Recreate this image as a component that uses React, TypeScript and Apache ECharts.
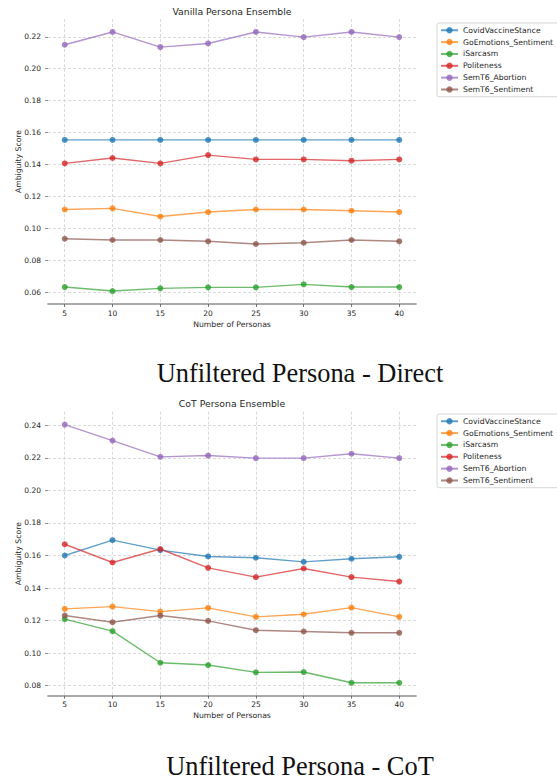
import React, { useEffect, useRef } from "react";
import * as echarts from "echarts";

// Shared x positions and series names
const personaCounts = [5, 10, 15, 20, 25, 30, 35, 40];
const seriesNames = [
  "CovidVaccineStance",
  "GoEmotions_Sentiment",
  "iSarcasm",
  "Politeness",
  "SemT6_Abortion",
  "SemT6_Sentiment",
];
const palette = ["#1f77b4", "#ff7f0e", "#2ca02c", "#d62728", "#9467bd", "#8c564b"];

// Vanilla persona ensemble
const vanillaCovid = [0.1555, 0.1555, 0.1555, 0.1555, 0.1555, 0.1555, 0.1555, 0.1555];
const vanillaGoEmotions = [0.112, 0.1127, 0.1076, 0.1104, 0.112, 0.112, 0.1112, 0.1104];
const vanillaSarcasm = [0.0635, 0.061, 0.0627, 0.0633, 0.0633, 0.0652, 0.0635, 0.0635];
const vanillaPoliteness = [0.1408, 0.1442, 0.1408, 0.146, 0.1433, 0.1433, 0.1425, 0.1433];
const vanillaAbortion = [0.215, 0.223, 0.2135, 0.2158, 0.223, 0.2198, 0.223, 0.2198];
const vanillaSentiment = [0.0937, 0.0929, 0.0929, 0.0921, 0.0904, 0.0912, 0.0929, 0.0921];
const vanillaTicks = [0.06, 0.08, 0.1, 0.12, 0.14, 0.16, 0.18, 0.2, 0.22];

// CoT persona ensemble
const cotCovid = [0.16, 0.1694, 0.1633, 0.1594, 0.1586, 0.1561, 0.158, 0.1592];
const cotGoEmotions = [0.1272, 0.1286, 0.1255, 0.1278, 0.1223, 0.1239, 0.128, 0.1223];
const cotSarcasm = [0.1209, 0.1135, 0.0941, 0.0927, 0.0882, 0.0884, 0.0818, 0.0818];
const cotPoliteness = [0.1669, 0.1557, 0.164, 0.1524, 0.1467, 0.152, 0.1467, 0.144];
const cotAbortion = [0.2404, 0.2306, 0.2206, 0.2214, 0.2198, 0.2198, 0.2225, 0.2198];
const cotSentiment = [0.1231, 0.119, 0.1231, 0.1198, 0.1141, 0.1133, 0.1125, 0.1125];
const cotTicks = [0.08, 0.1, 0.12, 0.14, 0.16, 0.18, 0.2, 0.22, 0.24];

const UI_FONT = "DejaVu Sans";
const TEXT_COLOR = "#262626";

function padded(values: number[]) {
  const lo = Math.min(...values);
  const hi = Math.max(...values);
  const pad = (hi - lo) * 0.05;
  return { min: lo - pad, max: hi + pad };
}

interface PanelProps {
  top: number;
  title: string;
  caption: string;
  lines: number[][];
  yTicks: number[];
  gridTop: number;
  gridHeight: number;
  titleY: number;
  captionY: number;
  legendTop: number;
}

function Panel(props: PanelProps) {
  const ref = useRef<HTMLDivElement>(null);

  useEffect(() => {
    if (!ref.current) return;
    const chart = echarts.init(ref.current, undefined, { renderer: "svg" });
    const yr = padded(props.lines.flat());
    const xr = padded(personaCounts);

    const gridLine = {
      show: true,
      lineStyle: { color: "#d0d0d0", width: 0.8, type: [3, 2] as number[] },
    };

    chart.setOption({
      animation: false,
      backgroundColor: "#ffffff",
      grid: {
        left: 48,
        top: props.gridTop,
        width: 368,
        height: props.gridHeight,
        containLabel: false,
      },
      legend: {
        orient: "vertical",
        left: 437,
        top: props.legendTop,
        padding: [3, 12, 3, 3],
        itemWidth: 17,
        itemHeight: 8,
        itemGap: 3.35,
        borderColor: "#cccccc",
        borderWidth: 0.8,
        borderRadius: 2,
        backgroundColor: "rgba(255,255,255,0.8)",
        textStyle: { fontFamily: UI_FONT, fontSize: 7.7, color: TEXT_COLOR, lineHeight: 8.5 },
        data: seriesNames,
      },
      xAxis: {
        type: "value",
        min: xr.min,
        max: xr.max,
        name: "Number of Personas",
        nameLocation: "middle",
        nameGap: 16,
        nameMoveOverlap: false,
        nameTextStyle: { fontFamily: UI_FONT, fontSize: 7.7, color: TEXT_COLOR },
        axisLine: { show: true, lineStyle: { color: "#aaaaaa", width: 1.8 } },
        axisTick: {
          show: true,
          length: 3,
          customValues: personaCounts,
          lineStyle: { color: "#555555", width: 0.8 },
        },
        axisLabel: {
          customValues: personaCounts,
          margin: 5,
          fontFamily: UI_FONT,
          fontSize: 7.5,
          color: TEXT_COLOR,
        },
        splitLine: { ...gridLine, customValues: personaCounts },
      },
      yAxis: {
        type: "value",
        min: yr.min,
        max: yr.max,
        name: "Ambiguity Score",
        nameLocation: "middle",
        nameGap: 26,
        nameMoveOverlap: false,
        nameTextStyle: { fontFamily: UI_FONT, fontSize: 7.7, color: TEXT_COLOR },
        axisLine: { show: false },
        axisTick: {
          show: true,
          length: 3,
          customValues: props.yTicks,
          lineStyle: { color: "#777777", width: 0.8 },
        },
        axisLabel: {
          customValues: props.yTicks,
          margin: 7,
          fontFamily: UI_FONT,
          fontSize: 7.5,
          color: TEXT_COLOR,
          formatter: (v: number) => v.toFixed(2),
        },
        splitLine: { ...gridLine, customValues: props.yTicks },
      },
      graphic: [
        {
          type: "text",
          x: 232,
          y: props.titleY,
          style: {
            text: props.title,
            align: "center",
            verticalAlign: "middle",
            fontFamily: UI_FONT,
            fontSize: 9.3,
            fill: TEXT_COLOR,
          },
        },
        {
          type: "text",
          x: 300,
          y: props.captionY,
          style: {
            text: props.caption,
            align: "center",
            verticalAlign: "middle",
            fontFamily: "Liberation Serif",
            fontSize: 26.4,
            fill: "#111111",
          },
        },
      ],
      series: props.lines.map((vals, i) => ({
        name: seriesNames[i],
        type: "line",
        data: personaCounts.map((x, j) => [x, vals[j]]),
        symbol: "circle",
        symbolSize: 6,
        lineStyle: { color: palette[i], width: 1.4, opacity: 0.7 },
        itemStyle: { color: palette[i], opacity: 0.8 },
        emphasis: { disabled: true },
      })),
    });

    return () => chart.dispose();
  }, []);

  return (
    <div
      ref={ref}
      style={{ position: "absolute", left: 0, top: props.top, width: 557, height: 390 }}
    />
  );
}

export default function App() {
  return (
    <div style={{ position: "absolute", left: 0, top: 0, width: 557, height: 780, background: "#fff" }}>
      <Panel
        top={0}
        title="Vanilla Persona Ensemble"
        caption="Unfiltered Persona - Direct"
        lines={[vanillaCovid, vanillaGoEmotions, vanillaSarcasm, vanillaPoliteness, vanillaAbortion, vanillaSentiment]}
        yTicks={vanillaTicks}
        gridTop={19}
        gridHeight={285}
        titleY={11}
        captionY={373}
        legendTop={23}
      />
      <Panel
        top={390}
        title="CoT Persona Ensemble"
        caption="Unfiltered Persona - CoT"
        lines={[cotCovid, cotGoEmotions, cotSarcasm, cotPoliteness, cotAbortion, cotSentiment]}
        yTicks={cotTicks}
        gridTop={21.7}
        gridHeight={284}
        titleY={13}
        captionY={376}
        legendTop={24}
      />
    </div>
  );
}
